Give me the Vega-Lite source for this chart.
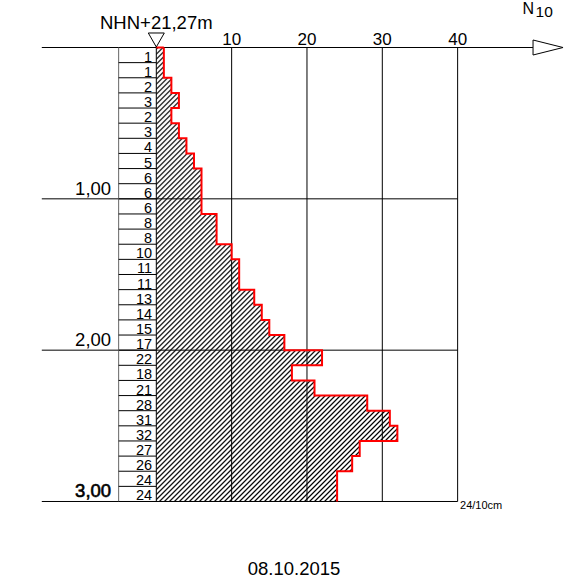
{
  "$schema": "https://vega.github.io/schema/vega-lite/v6.json",
  "width": 575,
  "height": 586,
  "autosize": "none",
  "padding": 0,
  "background": "white",
  "config": {"font": "Liberation Sans", "view": {"stroke": null}},
  "datasets": {
    "prof": [
      {"top": 0.0, "bottom": 0.1, "n": 1},
      {"top": 0.1, "bottom": 0.2, "n": 1},
      {"top": 0.2, "bottom": 0.3, "n": 2},
      {"top": 0.3, "bottom": 0.4, "n": 3},
      {"top": 0.4, "bottom": 0.5, "n": 2},
      {"top": 0.5, "bottom": 0.6, "n": 3},
      {"top": 0.6, "bottom": 0.7, "n": 4},
      {"top": 0.7, "bottom": 0.8, "n": 5},
      {"top": 0.8, "bottom": 0.9, "n": 6},
      {"top": 0.9, "bottom": 1.0, "n": 6},
      {"top": 1.0, "bottom": 1.1, "n": 6},
      {"top": 1.1, "bottom": 1.2, "n": 8},
      {"top": 1.2, "bottom": 1.3, "n": 8},
      {"top": 1.3, "bottom": 1.4, "n": 10},
      {"top": 1.4, "bottom": 1.5, "n": 11},
      {"top": 1.5, "bottom": 1.6, "n": 11},
      {"top": 1.6, "bottom": 1.7, "n": 13},
      {"top": 1.7, "bottom": 1.8, "n": 14},
      {"top": 1.8, "bottom": 1.9, "n": 15},
      {"top": 1.9, "bottom": 2.0, "n": 17},
      {"top": 2.0, "bottom": 2.1, "n": 22},
      {"top": 2.1, "bottom": 2.2, "n": 18},
      {"top": 2.2, "bottom": 2.3, "n": 21},
      {"top": 2.3, "bottom": 2.4, "n": 28},
      {"top": 2.4, "bottom": 2.5, "n": 31},
      {"top": 2.5, "bottom": 2.6, "n": 32},
      {"top": 2.6, "bottom": 2.7, "n": 27},
      {"top": 2.7, "bottom": 2.8, "n": 26},
      {"top": 2.8, "bottom": 2.9, "n": 24},
      {"top": 2.9, "bottom": 3.0, "n": 24}
    ],
    "ticks": [{"v": 10}, {"v": 20}, {"v": 30}, {"v": 40}],
    "depths": [{"d": 1, "label": "1,00"}, {"d": 2, "label": "2,00"}, {"d": 3, "label": "3,00"}],
    "one": [{}]
  },
  "layer": [
    {
      "data": {"name": "prof"},
      "transform": [{"fold": ["top", "bottom"], "as": ["edge", "depth"]}],
      "mark": {
        "type": "area",
        "orient": "horizontal",
        "fill": {
          "gradient": "linear",
          "x1": 0, "y1": 0, "x2": 0.63413, "y2": 1.19426,
          "stops": [
{"offset":0,"color":"#fff"},{"offset":0.0024,"color":"#000"},{"offset":0.0048,"color":"#fff"},
{"offset":0.0072,"color":"#fff"},{"offset":0.0096,"color":"#000"},{"offset":0.012,"color":"#fff"},
{"offset":0.0144,"color":"#fff"},{"offset":0.0168,"color":"#000"},{"offset":0.0192,"color":"#fff"},
{"offset":0.0216,"color":"#fff"},{"offset":0.024,"color":"#000"},{"offset":0.0264,"color":"#fff"},
{"offset":0.0288,"color":"#fff"},{"offset":0.0312,"color":"#000"},{"offset":0.0336,"color":"#fff"},
{"offset":0.036,"color":"#fff"},{"offset":0.0384,"color":"#000"},{"offset":0.0408,"color":"#fff"},
{"offset":0.0432,"color":"#fff"},{"offset":0.0456,"color":"#000"},{"offset":0.048,"color":"#fff"},
{"offset":0.0504,"color":"#fff"},{"offset":0.0528,"color":"#000"},{"offset":0.0552,"color":"#fff"},
{"offset":0.0576,"color":"#fff"},{"offset":0.06,"color":"#000"},{"offset":0.0624,"color":"#fff"},
{"offset":0.0648,"color":"#fff"},{"offset":0.0672,"color":"#000"},{"offset":0.0696,"color":"#fff"},
{"offset":0.072,"color":"#fff"},{"offset":0.0744,"color":"#000"},{"offset":0.0768,"color":"#fff"},
{"offset":0.0792,"color":"#fff"},{"offset":0.0816,"color":"#000"},{"offset":0.084,"color":"#fff"},
{"offset":0.0864,"color":"#fff"},{"offset":0.0888,"color":"#000"},{"offset":0.0912,"color":"#fff"},
{"offset":0.0936,"color":"#fff"},{"offset":0.096,"color":"#000"},{"offset":0.0984,"color":"#fff"},
{"offset":0.1008,"color":"#fff"},{"offset":0.1032,"color":"#000"},{"offset":0.1056,"color":"#fff"},
{"offset":0.108,"color":"#fff"},{"offset":0.1104,"color":"#000"},{"offset":0.1128,"color":"#fff"},
{"offset":0.1152,"color":"#fff"},{"offset":0.1176,"color":"#000"},{"offset":0.12,"color":"#fff"},
{"offset":0.1224,"color":"#fff"},{"offset":0.1248,"color":"#000"},{"offset":0.1272,"color":"#fff"},
{"offset":0.1296,"color":"#fff"},{"offset":0.132,"color":"#000"},{"offset":0.1344,"color":"#fff"},
{"offset":0.1368,"color":"#fff"},{"offset":0.1392,"color":"#000"},{"offset":0.1416,"color":"#fff"},
{"offset":0.144,"color":"#fff"},{"offset":0.1464,"color":"#000"},{"offset":0.1488,"color":"#fff"},
{"offset":0.1512,"color":"#fff"},{"offset":0.1536,"color":"#000"},{"offset":0.156,"color":"#fff"},
{"offset":0.1584,"color":"#fff"},{"offset":0.1608,"color":"#000"},{"offset":0.1632,"color":"#fff"},
{"offset":0.1656,"color":"#fff"},{"offset":0.168,"color":"#000"},{"offset":0.1704,"color":"#fff"},
{"offset":0.1728,"color":"#fff"},{"offset":0.1752,"color":"#000"},{"offset":0.1776,"color":"#fff"},
{"offset":0.18,"color":"#fff"},{"offset":0.1824,"color":"#000"},{"offset":0.1848,"color":"#fff"},
{"offset":0.1872,"color":"#fff"},{"offset":0.1896,"color":"#000"},{"offset":0.192,"color":"#fff"},
{"offset":0.1944,"color":"#fff"},{"offset":0.1968,"color":"#000"},{"offset":0.1992,"color":"#fff"},
{"offset":0.2016,"color":"#fff"},{"offset":0.204,"color":"#000"},{"offset":0.2064,"color":"#fff"},
{"offset":0.2088,"color":"#fff"},{"offset":0.2112,"color":"#000"},{"offset":0.2136,"color":"#fff"},
{"offset":0.216,"color":"#fff"},{"offset":0.2184,"color":"#000"},{"offset":0.2208,"color":"#fff"},
{"offset":0.2232,"color":"#fff"},{"offset":0.2256,"color":"#000"},{"offset":0.228,"color":"#fff"},
{"offset":0.2304,"color":"#fff"},{"offset":0.2328,"color":"#000"},{"offset":0.2352,"color":"#fff"},
{"offset":0.2376,"color":"#fff"},{"offset":0.24,"color":"#000"},{"offset":0.2424,"color":"#fff"},
{"offset":0.2448,"color":"#fff"},{"offset":0.2472,"color":"#000"},{"offset":0.2496,"color":"#fff"},
{"offset":0.252,"color":"#fff"},{"offset":0.2544,"color":"#000"},{"offset":0.2568,"color":"#fff"},
{"offset":0.2592,"color":"#fff"},{"offset":0.2616,"color":"#000"},{"offset":0.264,"color":"#fff"},
{"offset":0.2664,"color":"#fff"},{"offset":0.2688,"color":"#000"},{"offset":0.2712,"color":"#fff"},
{"offset":0.2736,"color":"#fff"},{"offset":0.276,"color":"#000"},{"offset":0.2784,"color":"#fff"},
{"offset":0.2808,"color":"#fff"},{"offset":0.2832,"color":"#000"},{"offset":0.2856,"color":"#fff"},
{"offset":0.288,"color":"#fff"},{"offset":0.2904,"color":"#000"},{"offset":0.2928,"color":"#fff"},
{"offset":0.2952,"color":"#fff"},{"offset":0.2976,"color":"#000"},{"offset":0.3,"color":"#fff"},
{"offset":0.3024,"color":"#fff"},{"offset":0.3048,"color":"#000"},{"offset":0.3072,"color":"#fff"},
{"offset":0.3096,"color":"#fff"},{"offset":0.312,"color":"#000"},{"offset":0.3144,"color":"#fff"},
{"offset":0.3168,"color":"#fff"},{"offset":0.3192,"color":"#000"},{"offset":0.3216,"color":"#fff"},
{"offset":0.324,"color":"#fff"},{"offset":0.3264,"color":"#000"},{"offset":0.3288,"color":"#fff"},
{"offset":0.3312,"color":"#fff"},{"offset":0.3336,"color":"#000"},{"offset":0.336,"color":"#fff"},
{"offset":0.3384,"color":"#fff"},{"offset":0.3408,"color":"#000"},{"offset":0.3432,"color":"#fff"},
{"offset":0.3456,"color":"#fff"},{"offset":0.348,"color":"#000"},{"offset":0.3504,"color":"#fff"},
{"offset":0.3528,"color":"#fff"},{"offset":0.3552,"color":"#000"},{"offset":0.3576,"color":"#fff"},
{"offset":0.36,"color":"#fff"},{"offset":0.3624,"color":"#000"},{"offset":0.3648,"color":"#fff"},
{"offset":0.3672,"color":"#fff"},{"offset":0.3696,"color":"#000"},{"offset":0.372,"color":"#fff"},
{"offset":0.3744,"color":"#fff"},{"offset":0.3768,"color":"#000"},{"offset":0.3792,"color":"#fff"},
{"offset":0.3816,"color":"#fff"},{"offset":0.384,"color":"#000"},{"offset":0.3864,"color":"#fff"},
{"offset":0.3888,"color":"#fff"},{"offset":0.3912,"color":"#000"},{"offset":0.3936,"color":"#fff"},
{"offset":0.396,"color":"#fff"},{"offset":0.3984,"color":"#000"},{"offset":0.4008,"color":"#fff"},
{"offset":0.4032,"color":"#fff"},{"offset":0.4056,"color":"#000"},{"offset":0.408,"color":"#fff"},
{"offset":0.4104,"color":"#fff"},{"offset":0.4128,"color":"#000"},{"offset":0.4152,"color":"#fff"},
{"offset":0.4176,"color":"#fff"},{"offset":0.42,"color":"#000"},{"offset":0.4224,"color":"#fff"},
{"offset":0.4248,"color":"#fff"},{"offset":0.4272,"color":"#000"},{"offset":0.4296,"color":"#fff"},
{"offset":0.432,"color":"#fff"},{"offset":0.4344,"color":"#000"},{"offset":0.4368,"color":"#fff"},
{"offset":0.4392,"color":"#fff"},{"offset":0.4416,"color":"#000"},{"offset":0.444,"color":"#fff"},
{"offset":0.4464,"color":"#fff"},{"offset":0.4488,"color":"#000"},{"offset":0.4512,"color":"#fff"},
{"offset":0.4536,"color":"#fff"},{"offset":0.456,"color":"#000"},{"offset":0.4584,"color":"#fff"},
{"offset":0.4608,"color":"#fff"},{"offset":0.4632,"color":"#000"},{"offset":0.4656,"color":"#fff"},
{"offset":0.468,"color":"#fff"},{"offset":0.4704,"color":"#000"},{"offset":0.4728,"color":"#fff"},
{"offset":0.4752,"color":"#fff"},{"offset":0.4776,"color":"#000"},{"offset":0.48,"color":"#fff"},
{"offset":0.4824,"color":"#fff"},{"offset":0.4848,"color":"#000"},{"offset":0.4872,"color":"#fff"},
{"offset":0.4896,"color":"#fff"},{"offset":0.492,"color":"#000"},{"offset":0.4944,"color":"#fff"},
{"offset":0.4968,"color":"#fff"},{"offset":0.4992,"color":"#000"},{"offset":0.5016,"color":"#fff"},
{"offset":0.504,"color":"#fff"},{"offset":0.5064,"color":"#000"},{"offset":0.5088,"color":"#fff"},
{"offset":0.5112,"color":"#fff"},{"offset":0.5136,"color":"#000"},{"offset":0.516,"color":"#fff"},
{"offset":0.5184,"color":"#fff"},{"offset":0.5208,"color":"#000"},{"offset":0.5232,"color":"#fff"},
{"offset":0.5256,"color":"#fff"},{"offset":0.528,"color":"#000"},{"offset":0.5304,"color":"#fff"},
{"offset":0.5328,"color":"#fff"},{"offset":0.5352,"color":"#000"},{"offset":0.5376,"color":"#fff"},
{"offset":0.54,"color":"#fff"},{"offset":0.5424,"color":"#000"},{"offset":0.5448,"color":"#fff"},
{"offset":0.5472,"color":"#fff"},{"offset":0.5496,"color":"#000"},{"offset":0.552,"color":"#fff"},
{"offset":0.5544,"color":"#fff"},{"offset":0.5568,"color":"#000"},{"offset":0.5592,"color":"#fff"},
{"offset":0.5616,"color":"#fff"},{"offset":0.564,"color":"#000"},{"offset":0.5664,"color":"#fff"},
{"offset":0.5688,"color":"#fff"},{"offset":0.5712,"color":"#000"},{"offset":0.5736,"color":"#fff"},
{"offset":0.576,"color":"#fff"},{"offset":0.5784,"color":"#000"},{"offset":0.5808,"color":"#fff"},
{"offset":0.5832,"color":"#fff"},{"offset":0.5856,"color":"#000"},{"offset":0.588,"color":"#fff"},
{"offset":0.5904,"color":"#fff"},{"offset":0.5928,"color":"#000"},{"offset":0.5952,"color":"#fff"},
{"offset":0.5976,"color":"#fff"},{"offset":0.6,"color":"#000"},{"offset":0.6024,"color":"#fff"},
{"offset":0.6048,"color":"#fff"},{"offset":0.6072,"color":"#000"},{"offset":0.6096,"color":"#fff"},
{"offset":0.612,"color":"#fff"},{"offset":0.6144,"color":"#000"},{"offset":0.6168,"color":"#fff"},
{"offset":0.6192,"color":"#fff"},{"offset":0.6216,"color":"#000"},{"offset":0.624,"color":"#fff"},
{"offset":0.6264,"color":"#fff"},{"offset":0.6288,"color":"#000"},{"offset":0.6312,"color":"#fff"},
{"offset":0.6336,"color":"#fff"},{"offset":0.636,"color":"#000"},{"offset":0.6384,"color":"#fff"},
{"offset":0.6408,"color":"#fff"},{"offset":0.6432,"color":"#000"},{"offset":0.6456,"color":"#fff"},
{"offset":0.648,"color":"#fff"},{"offset":0.6504,"color":"#000"},{"offset":0.6528,"color":"#fff"},
{"offset":0.6552,"color":"#fff"},{"offset":0.6576,"color":"#000"},{"offset":0.66,"color":"#fff"},
{"offset":0.6624,"color":"#fff"},{"offset":0.6648,"color":"#000"},{"offset":0.6672,"color":"#fff"},
{"offset":0.6696,"color":"#fff"},{"offset":0.672,"color":"#000"},{"offset":0.6744,"color":"#fff"},
{"offset":0.6768,"color":"#fff"},{"offset":0.6792,"color":"#000"},{"offset":0.6816,"color":"#fff"},
{"offset":0.684,"color":"#fff"},{"offset":0.6864,"color":"#000"},{"offset":0.6888,"color":"#fff"},
{"offset":0.6912,"color":"#fff"},{"offset":0.6936,"color":"#000"},{"offset":0.696,"color":"#fff"},
{"offset":0.6984,"color":"#fff"},{"offset":0.7008,"color":"#000"},{"offset":0.7032,"color":"#fff"},
{"offset":0.7056,"color":"#fff"},{"offset":0.708,"color":"#000"},{"offset":0.7104,"color":"#fff"},
{"offset":0.7128,"color":"#fff"},{"offset":0.7152,"color":"#000"},{"offset":0.7176,"color":"#fff"},
{"offset":0.72,"color":"#fff"},{"offset":0.7224,"color":"#000"},{"offset":0.7248,"color":"#fff"},
{"offset":0.7272,"color":"#fff"},{"offset":0.7296,"color":"#000"},{"offset":0.732,"color":"#fff"},
{"offset":0.7344,"color":"#fff"},{"offset":0.7368,"color":"#000"},{"offset":0.7392,"color":"#fff"},
{"offset":0.7416,"color":"#fff"},{"offset":0.744,"color":"#000"},{"offset":0.7464,"color":"#fff"},
{"offset":0.7488,"color":"#fff"},{"offset":0.7512,"color":"#000"},{"offset":0.7536,"color":"#fff"},
{"offset":0.756,"color":"#fff"},{"offset":0.7584,"color":"#000"},{"offset":0.7608,"color":"#fff"},
{"offset":0.7632,"color":"#fff"},{"offset":0.7656,"color":"#000"},{"offset":0.768,"color":"#fff"},
{"offset":0.7704,"color":"#fff"},{"offset":0.7728,"color":"#000"},{"offset":0.7752,"color":"#fff"},
{"offset":0.7776,"color":"#fff"},{"offset":0.78,"color":"#000"},{"offset":0.7824,"color":"#fff"},
{"offset":0.7848,"color":"#fff"},{"offset":0.7872,"color":"#000"},{"offset":0.7896,"color":"#fff"},
{"offset":0.792,"color":"#fff"},{"offset":0.7944,"color":"#000"},{"offset":0.7968,"color":"#fff"},
{"offset":0.7992,"color":"#fff"},{"offset":0.8016,"color":"#000"},{"offset":0.804,"color":"#fff"},
{"offset":0.8064,"color":"#fff"},{"offset":0.8088,"color":"#000"},{"offset":0.8112,"color":"#fff"},
{"offset":0.8136,"color":"#fff"},{"offset":0.816,"color":"#000"},{"offset":0.8184,"color":"#fff"},
{"offset":0.8208,"color":"#fff"},{"offset":0.8232,"color":"#000"},{"offset":0.8256,"color":"#fff"},
{"offset":0.828,"color":"#fff"},{"offset":0.8304,"color":"#000"},{"offset":0.8328,"color":"#fff"},
{"offset":0.8352,"color":"#fff"},{"offset":0.8376,"color":"#000"},{"offset":0.84,"color":"#fff"},
{"offset":0.8424,"color":"#fff"},{"offset":0.8448,"color":"#000"},{"offset":0.8472,"color":"#fff"},
{"offset":0.8496,"color":"#fff"},{"offset":0.852,"color":"#000"},{"offset":0.8544,"color":"#fff"},
{"offset":0.8568,"color":"#fff"},{"offset":0.8592,"color":"#000"},{"offset":0.8616,"color":"#fff"},
{"offset":0.864,"color":"#fff"},{"offset":0.8664,"color":"#000"},{"offset":0.8688,"color":"#fff"},
{"offset":0.8712,"color":"#fff"},{"offset":0.8736,"color":"#000"},{"offset":0.876,"color":"#fff"},
{"offset":0.8784,"color":"#fff"},{"offset":0.8808,"color":"#000"},{"offset":0.8832,"color":"#fff"},
{"offset":0.8856,"color":"#fff"},{"offset":0.888,"color":"#000"},{"offset":0.8904,"color":"#fff"},
{"offset":0.8928,"color":"#fff"},{"offset":0.8952,"color":"#000"},{"offset":0.8976,"color":"#fff"},
{"offset":0.9,"color":"#fff"},{"offset":0.9024,"color":"#000"},{"offset":0.9048,"color":"#fff"},
{"offset":0.9072,"color":"#fff"},{"offset":0.9096,"color":"#000"},{"offset":0.912,"color":"#fff"},
{"offset":0.9144,"color":"#fff"},{"offset":0.9168,"color":"#000"},{"offset":0.9192,"color":"#fff"},
{"offset":0.9216,"color":"#fff"},{"offset":0.924,"color":"#000"},{"offset":0.9264,"color":"#fff"},
{"offset":0.9288,"color":"#fff"},{"offset":0.9312,"color":"#000"},{"offset":0.9336,"color":"#fff"},
{"offset":0.936,"color":"#fff"},{"offset":0.9384,"color":"#000"},{"offset":0.9408,"color":"#fff"},
{"offset":0.9432,"color":"#fff"},{"offset":0.9456,"color":"#000"},{"offset":0.948,"color":"#fff"},
{"offset":0.9504,"color":"#fff"},{"offset":0.9528,"color":"#000"},{"offset":0.9552,"color":"#fff"},
{"offset":0.9576,"color":"#fff"},{"offset":0.96,"color":"#000"},{"offset":0.9624,"color":"#fff"},
{"offset":0.9648,"color":"#fff"},{"offset":0.9672,"color":"#000"},{"offset":0.9696,"color":"#fff"},
{"offset":0.972,"color":"#fff"},{"offset":0.9744,"color":"#000"},{"offset":0.9768,"color":"#fff"},
{"offset":0.9792,"color":"#fff"},{"offset":0.9816,"color":"#000"},{"offset":0.984,"color":"#fff"},
{"offset":0.9864,"color":"#fff"},{"offset":0.9888,"color":"#000"},{"offset":0.9912,"color":"#fff"},
{"offset":0.9936,"color":"#fff"},{"offset":0.996,"color":"#000"},{"offset":0.9984,"color":"#fff"}
          ]
        }
      },
      "encoding": {
        "y": {"field": "depth", "type": "quantitative", "axis": null, "scale": {"domain": [-0.3139, 3.5584], "nice": false, "zero": false, "reverse": true}},
        "x": {"field": "n", "type": "quantitative", "axis": null, "stack": null, "scale": {"domain": [-20.75, 55.58], "nice": false, "zero": false}},
        "x2": {"datum": 0},
        "order": {"value": null}
      }
    },
    {
      "data": {"name": "ticks"},
      "mark": {"type": "rule", "color": "#000", "strokeWidth": 1},
      "encoding": {
        "x": {"field": "v", "type": "quantitative", "axis": null, "scale": {"domain": [-20.75, 55.58], "nice": false, "zero": false}},
        "y": {"datum": 0, "type": "quantitative", "axis": null, "scale": {"domain": [-0.3139, 3.5584], "nice": false, "zero": false, "reverse": true}},
        "y2": {"datum": 3}
      }
    },
    {
      "data": {"name": "ticks"},
      "mark": {"type": "text", "fontSize": 17, "align": "center", "baseline": "alphabetic", "dy": -3, "color": "#000"},
      "encoding": {
        "x": {"field": "v", "type": "quantitative", "axis": null, "scale": {"domain": [-20.75, 55.58], "nice": false, "zero": false}},
        "y": {"datum": 0, "type": "quantitative", "axis": null, "scale": {"domain": [-0.3139, 3.5584], "nice": false, "zero": false, "reverse": true}},
        "text": {"field": "v", "type": "quantitative"}
      }
    },
    {
      "data": {"name": "depths"},
      "mark": {"type": "rule", "color": "#000", "strokeWidth": 1},
      "encoding": {
        "x": {"datum": -15.2, "type": "quantitative", "axis": null, "scale": {"domain": [-20.75, 55.58], "nice": false, "zero": false}},
        "x2": {"datum": 40},
        "y": {"field": "d", "type": "quantitative", "axis": null, "scale": {"domain": [-0.3139, 3.5584], "nice": false, "zero": false, "reverse": true}}
      }
    },
    {
      "data": {"name": "depths"},
      "transform": [{"filter": "datum.d < 3"}],
      "mark": {"type": "text", "fontSize": 18.5, "align": "right", "baseline": "alphabetic", "dy": -4, "color": "#000"},
      "encoding": {
        "x": {"datum": -6, "type": "quantitative", "axis": null, "scale": {"domain": [-20.75, 55.58], "nice": false, "zero": false}},
        "y": {"field": "d", "type": "quantitative", "axis": null, "scale": {"domain": [-0.3139, 3.5584], "nice": false, "zero": false, "reverse": true}},
        "text": {"field": "label", "type": "nominal"}
      }
    },
    {
      "data": {"name": "depths"},
      "transform": [{"filter": "datum.d == 3"}],
      "mark": {"type": "text", "fontSize": 18.5, "align": "right", "baseline": "alphabetic", "dy": -4, "color": "#000", "stroke": "#000", "strokeWidth": 0.6},
      "encoding": {
        "x": {"datum": -6, "type": "quantitative", "axis": null, "scale": {"domain": [-20.75, 55.58], "nice": false, "zero": false}},
        "y": {"field": "d", "type": "quantitative", "axis": null, "scale": {"domain": [-0.3139, 3.5584], "nice": false, "zero": false, "reverse": true}},
        "text": {"field": "label", "type": "nominal"}
      }
    },
    {
      "data": {"name": "one"},
      "mark": {"type": "rule", "color": "#000", "strokeWidth": 1},
      "encoding": {
        "x": {"datum": -15.2, "type": "quantitative", "axis": null, "scale": {"domain": [-20.75, 55.58], "nice": false, "zero": false}},
        "x2": {"datum": 50},
        "y": {"datum": 0, "type": "quantitative", "axis": null, "scale": {"domain": [-0.3139, 3.5584], "nice": false, "zero": false, "reverse": true}}
      }
    },
    {
      "data": {"name": "one"},
      "mark": {"type": "rule", "color": "#666", "strokeWidth": 1},
      "encoding": {
        "x": {"datum": -5, "type": "quantitative", "axis": null, "scale": {"domain": [-20.75, 55.58], "nice": false, "zero": false}},
        "y": {"datum": 0, "type": "quantitative", "axis": null, "scale": {"domain": [-0.3139, 3.5584], "nice": false, "zero": false, "reverse": true}},
        "y2": {"datum": 3}
      }
    },
    {
      "data": {"name": "one"},
      "mark": {"type": "rule", "color": "#000", "strokeWidth": 1},
      "encoding": {
        "x": {"datum": 0, "type": "quantitative", "axis": null, "scale": {"domain": [-20.75, 55.58], "nice": false, "zero": false}},
        "y": {"datum": 0, "type": "quantitative", "axis": null, "scale": {"domain": [-0.3139, 3.5584], "nice": false, "zero": false, "reverse": true}},
        "y2": {"datum": 3}
      }
    },
    {
      "data": {"name": "prof"},
      "mark": {"type": "rule", "color": "#000", "strokeWidth": 1},
      "encoding": {
        "x": {"datum": -5, "type": "quantitative", "axis": null, "scale": {"domain": [-20.75, 55.58], "nice": false, "zero": false}},
        "x2": {"datum": 0},
        "y": {"field": "bottom", "type": "quantitative", "axis": null, "scale": {"domain": [-0.3139, 3.5584], "nice": false, "zero": false, "reverse": true}}
      }
    },
    {
      "data": {"name": "prof"},
      "mark": {"type": "text", "fontSize": 14.5, "align": "right", "baseline": "alphabetic", "dy": -1, "color": "#000"},
      "encoding": {
        "x": {"datum": -0.55, "type": "quantitative", "axis": null, "scale": {"domain": [-20.75, 55.58], "nice": false, "zero": false}},
        "y": {"field": "bottom", "type": "quantitative", "axis": null, "scale": {"domain": [-0.3139, 3.5584], "nice": false, "zero": false, "reverse": true}},
        "text": {"field": "n", "type": "quantitative"}
      }
    },
    {
      "data": {"name": "prof"},
      "transform": [{"fold": ["top", "bottom"], "as": ["edge", "depth"]}],
      "mark": {"type": "line", "color": "#ff0000", "strokeWidth": 2},
      "encoding": {
        "y": {"field": "depth", "type": "quantitative", "axis": null, "scale": {"domain": [-0.3139, 3.5584], "nice": false, "zero": false, "reverse": true}},
        "x": {"field": "n", "type": "quantitative", "axis": null, "scale": {"domain": [-20.75, 55.58], "nice": false, "zero": false}},
        "order": {"value": null}
      }
    },
    {
      "data": {"name": "prof"},
      "transform": [{"filter": "datum.top == 0"}],
      "mark": {"type": "rule", "color": "#ff0000", "strokeWidth": 2},
      "encoding": {
        "x": {"field": "n", "type": "quantitative", "axis": null, "scale": {"domain": [-20.75, 55.58], "nice": false, "zero": false}},
        "x2": {"datum": 0},
        "y": {"datum": 0, "type": "quantitative", "axis": null, "scale": {"domain": [-0.3139, 3.5584], "nice": false, "zero": false, "reverse": true}}
      }
    },
    {
      "data": {"name": "one"},
      "mark": {"type": "point", "shape": "M-1,-0.875L1,-0.875L0,0.875Z", "size": 256, "filled": false, "stroke": "#000", "strokeWidth": 1, "opacity": 1},
      "encoding": {
        "x": {"datum": 0, "type": "quantitative", "axis": null, "scale": {"domain": [-20.75, 55.58], "nice": false, "zero": false}},
        "y": {"datum": -0.0496, "type": "quantitative", "axis": null, "scale": {"domain": [-0.3139, 3.5584], "nice": false, "zero": false, "reverse": true}}
      }
    },
    {
      "data": {"name": "one"},
      "mark": {"type": "point", "shape": "M-1,-0.5L1,0L-1,0.5Z", "size": 900, "filled": false, "stroke": "#000", "strokeWidth": 1, "opacity": 1},
      "encoding": {
        "x": {"datum": 52, "type": "quantitative", "axis": null, "scale": {"domain": [-20.75, 55.58], "nice": false, "zero": false}},
        "y": {"datum": 0, "type": "quantitative", "axis": null, "scale": {"domain": [-0.3139, 3.5584], "nice": false, "zero": false, "reverse": true}}
      }
    },
    {
      "data": {"name": "one"},
      "mark": {"type": "text", "text": "NHN+21,27m", "fontSize": 18.5, "align": "center", "baseline": "alphabetic", "color": "#000"},
      "encoding": {
        "x": {"datum": 0, "type": "quantitative", "axis": null, "scale": {"domain": [-20.75, 55.58], "nice": false, "zero": false}},
        "y": {"datum": -0.1245, "type": "quantitative", "axis": null, "scale": {"domain": [-0.3139, 3.5584], "nice": false, "zero": false, "reverse": true}}
      }
    },
    {
      "data": {"name": "one"},
      "mark": {"type": "text", "text": "N", "fontSize": 16, "align": "left", "baseline": "alphabetic", "color": "#000"},
      "encoding": {
        "x": {"datum": 48.6, "type": "quantitative", "axis": null, "scale": {"domain": [-20.75, 55.58], "nice": false, "zero": false}},
        "y": {"datum": -0.224, "type": "quantitative", "axis": null, "scale": {"domain": [-0.3139, 3.5584], "nice": false, "zero": false, "reverse": true}}
      }
    },
    {
      "data": {"name": "one"},
      "mark": {"type": "text", "text": "10", "fontSize": 15.5, "align": "left", "baseline": "alphabetic", "color": "#000"},
      "encoding": {
        "x": {"datum": 50.35, "type": "quantitative", "axis": null, "scale": {"domain": [-20.75, 55.58], "nice": false, "zero": false}},
        "y": {"datum": -0.2, "type": "quantitative", "axis": null, "scale": {"domain": [-0.3139, 3.5584], "nice": false, "zero": false, "reverse": true}}
      }
    },
    {
      "data": {"name": "one"},
      "mark": {"type": "text", "text": "24/10cm", "fontSize": 11, "align": "left", "baseline": "alphabetic", "color": "#000"},
      "encoding": {
        "x": {"datum": 40.32, "type": "quantitative", "axis": null, "scale": {"domain": [-20.75, 55.58], "nice": false, "zero": false}},
        "y": {"datum": 3.0496, "type": "quantitative", "axis": null, "scale": {"domain": [-0.3139, 3.5584], "nice": false, "zero": false, "reverse": true}}
      }
    },
    {
      "data": {"name": "one"},
      "mark": {"type": "text", "text": "08.10.2015", "fontSize": 18.5, "align": "center", "baseline": "alphabetic", "color": "#000"},
      "encoding": {
        "x": {"datum": 18.28, "type": "quantitative", "axis": null, "scale": {"domain": [-20.75, 55.58], "nice": false, "zero": false}},
        "y": {"datum": 3.4857, "type": "quantitative", "axis": null, "scale": {"domain": [-0.3139, 3.5584], "nice": false, "zero": false, "reverse": true}}
      }
    }
  ]
}
